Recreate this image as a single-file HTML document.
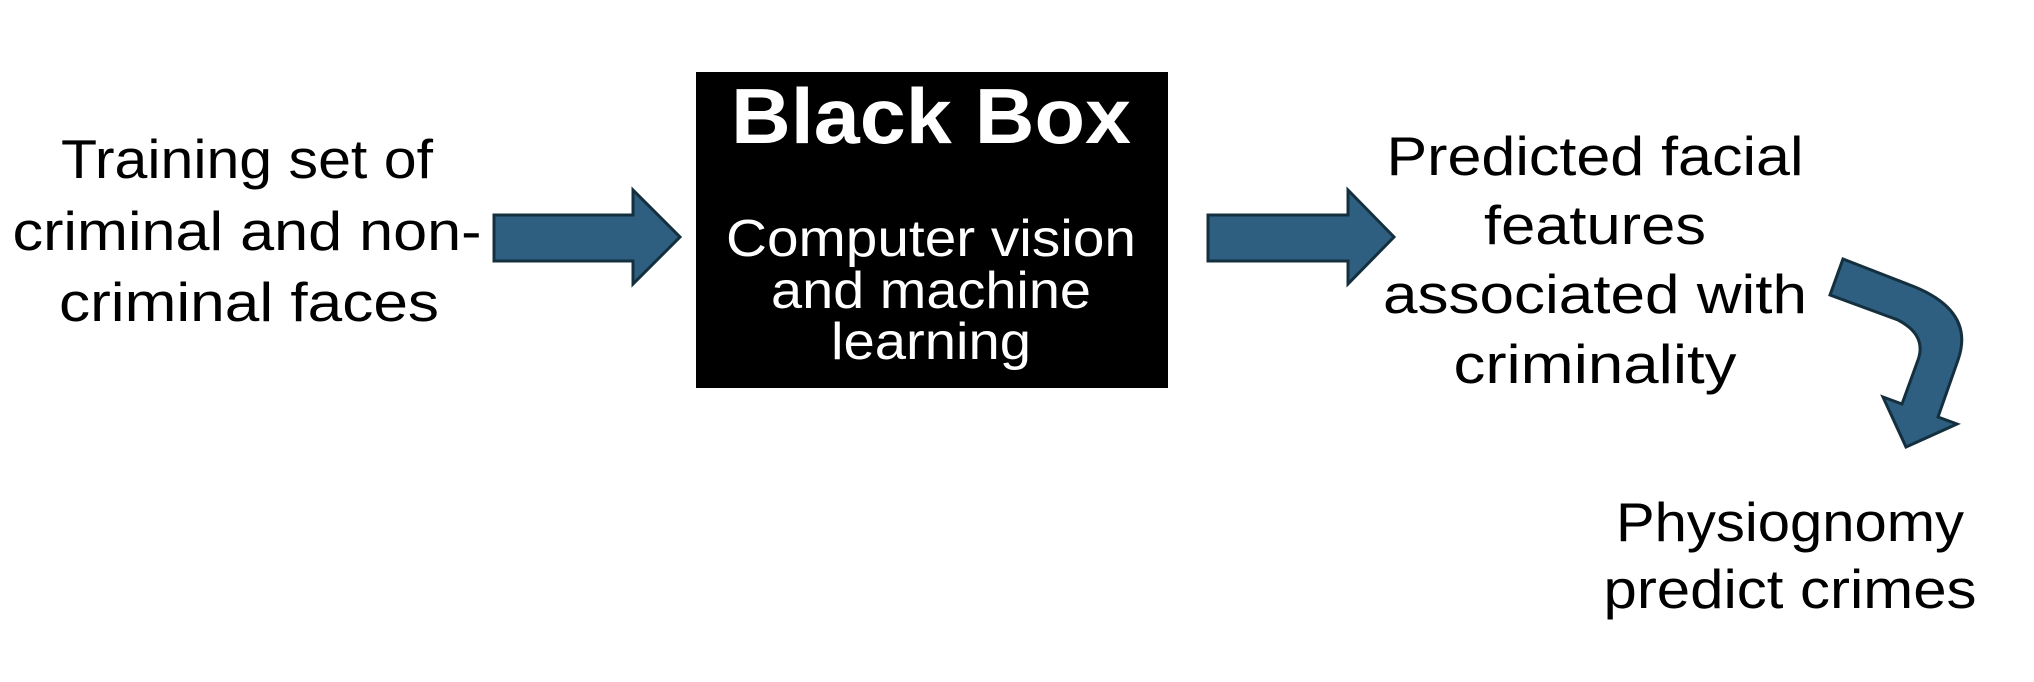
<!DOCTYPE html>
<html><head><meta charset="utf-8"><style>html,body{margin:0;padding:0;background:#fff}svg{display:block}</style></head>
<body>
<svg width="2034" height="682" viewBox="0 0 2034 682" xmlns="http://www.w3.org/2000/svg">
<g font-family="Liberation Sans, sans-serif" font-size="55" fill="#000" text-anchor="middle">
<text x="247" y="178" textLength="372" lengthAdjust="spacingAndGlyphs">Training set of</text>
<text x="247" y="250" textLength="469" lengthAdjust="spacingAndGlyphs">criminal and non-</text>
<text x="249" y="321" textLength="380" lengthAdjust="spacingAndGlyphs">criminal faces</text>
<text x="1595" y="175" textLength="417" lengthAdjust="spacingAndGlyphs">Predicted facial</text>
<text x="1595" y="244" textLength="222" lengthAdjust="spacingAndGlyphs">features</text>
<text x="1595" y="313" textLength="424" lengthAdjust="spacingAndGlyphs">associated with</text>
<text x="1595" y="383" textLength="283" lengthAdjust="spacingAndGlyphs">criminality</text>
<text x="1790" y="541" textLength="348" lengthAdjust="spacingAndGlyphs">Physiognomy</text>
<text x="1790" y="608" textLength="373" lengthAdjust="spacingAndGlyphs">predict crimes</text>
</g>
<rect x="696" y="72" width="472" height="316" fill="#000"/>
<g font-family="Liberation Sans, sans-serif" fill="#fff" text-anchor="middle">
<text x="931" y="143" font-size="78" font-weight="bold" textLength="400" lengthAdjust="spacingAndGlyphs">Black Box</text>
<text x="931" y="256" font-size="52" textLength="410" lengthAdjust="spacingAndGlyphs">Computer vision</text>
<text x="931" y="308" font-size="52" textLength="320" lengthAdjust="spacingAndGlyphs">and machine</text>
<text x="931" y="359" font-size="52" textLength="200" lengthAdjust="spacingAndGlyphs">learning</text>
</g>
<g fill="#2e5f80" stroke="#14303f" stroke-width="3" stroke-linejoin="miter">
<polygon points="494,215 633,215 633,190 680,237 633,284 633,261 494,261"/>
<polygon points="1208,215 1348,215 1348,190 1394,237 1348,284 1348,261 1208,261"/>
<path d="M1843,259 L1915,287 Q1975,312 1958,360 L1938,417 L1957,424 L1906,447 L1883,397 L1902,404 L1918,360 Q1927,335 1898,320 L1830,295 Z"/>
</g>
</svg>
</body></html>
